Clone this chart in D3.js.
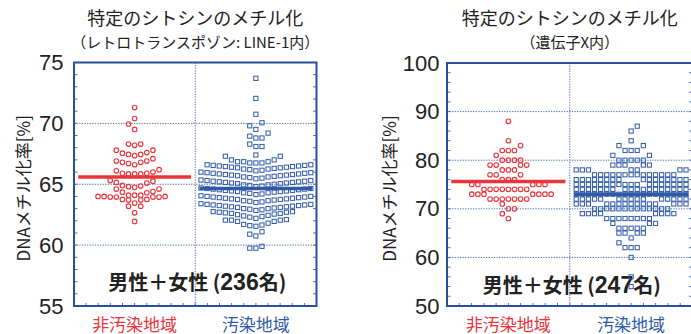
<!DOCTYPE html>
<html>
<head>
<meta charset="utf-8">
<script src="https://cdn.jsdelivr.net/npm/d3@7"></script>
<style>
  html, body { margin: 0; padding: 0; background: #fff; }
  svg { display: block; }
</style>
</head>
<body>
<svg id="chart" width="691" height="334"></svg>
<script>
// ---------------- data ----------------
const categories = ["非汚染地域", "汚染地域"];

// LINE-1 methylation rate (%), one value per subject
const line1Unexposed = [
  61.95,
  62.65, 63.2, 63.2,
  63.45, 63.7, 63.7, 63.75, 63.75, 63.95, 63.95, 63.95, 63.95, 64.0, 64.0, 64.0,
  64.1, 64.1, 64.1, 64.3, 64.35, 64.4, 64.6, 64.6,
  64.75, 64.8, 64.85, 64.9, 65.1, 65.15, 65.25, 65.3,
  65.85, 65.85, 65.85, 65.9, 65.9, 66.0, 66.1, 66.2,
  66.6, 66.7, 66.8, 66.8, 66.9, 66.9, 67.1,
  67.35, 67.45, 67.45, 67.55, 67.6, 67.8, 67.8,
  68.2, 68.3, 68.3,
  69.5, 69.95,
  70.4,
  71.3
];
const line1Exposed = [
  59.75, 59.75, 59.9,
  60.75, 60.9, 61.1,
  61.55, 61.6, 61.65, 61.7, 61.8, 61.95, 61.95, 62.05, 62.05, 62.05, 62.1,
  62.2, 62.3, 62.35, 62.4, 62.45, 62.5, 62.55, 62.6, 62.6, 62.65, 62.7, 62.7, 62.75, 62.75,
  62.85, 62.9, 62.95, 63.0, 63.0, 63.05, 63.1, 63.1, 63.15, 63.15, 63.2, 63.2, 63.25, 63.25, 63.3, 63.3, 63.35, 63.35, 63.4,
  63.5, 63.55, 63.6, 63.65, 63.65, 63.7, 63.75, 63.75, 63.8, 63.8, 63.85, 63.85, 63.9, 63.9, 63.95, 63.95, 64.0, 64.0, 64.05,
  64.15, 64.2, 64.25, 64.3, 64.3, 64.35, 64.4, 64.4, 64.45, 64.45, 64.5, 64.5, 64.55, 64.55, 64.6, 64.6, 64.65, 64.65, 64.7,
  64.8, 64.85, 64.9, 64.95, 64.95, 65.0, 65.05, 65.05, 65.1, 65.1, 65.15, 65.15, 65.2, 65.2, 65.25, 65.25, 65.3, 65.3, 65.35,
  65.45, 65.5, 65.55, 65.6, 65.6, 65.65, 65.7, 65.7, 65.75, 65.75, 65.8, 65.8, 65.85, 65.85, 65.9, 65.9, 65.95, 65.95, 66.0,
  66.1, 66.15, 66.2, 66.25, 66.25, 66.3, 66.35, 66.35, 66.4, 66.4, 66.45, 66.45, 66.5, 66.5, 66.55, 66.55, 66.6, 66.6,
  66.75, 66.75, 66.75, 66.85, 66.85, 66.85, 67.0, 67.0, 67.3, 67.3,
  67.4,
  68.1, 68.1, 68.3,
  68.8, 68.8, 68.95, 69.2,
  69.5, 69.8, 70.05,
  70.75, 72.05, 73.7
];
const line1Means = [65.6, 64.65];
const line1Ticks = [55, 60, 65, 70, 75];

// methylation rate (%) inside gene X, one value per subject
const geneXUnexposed = [
  68, 69, 70, 70, 71,
  72, 72, 72, 72, 72, 72, 72,
  73, 73, 73, 73, 73, 73, 73,
  74, 74, 74, 74, 74, 74, 74, 74,
  75, 75, 75, 75, 75,
  76, 76, 76, 77, 77, 77,
  78, 78, 78, 79, 79, 79, 79,
  80, 80, 80, 80, 81,
  82, 82, 82, 83, 84, 88
];
const geneXExposed = [
  54, 56, 60, 62, 62, 62, 63, 64, 65, 65, 65, 65,
  66, 66, 66, 66, 66, 67, 67, 67,
  68, 68, 68, 68, 68, 68, 68, 68,
  69, 69, 69, 69, 69, 69, 69, 69,
  70, 70, 70, 70, 70, 70, 70, 70, 70, 70, 70, 70, 70,
  71, 71, 71, 71, 71, 71, 71, 71, 71, 71, 71, 71, 71, 71, 71,
  72, 72, 72, 72, 72, 72, 72, 72, 72, 72, 72, 72, 72, 72, 72,
  73, 73, 73, 73, 73, 73, 73, 73, 73, 73, 73, 73, 73, 73, 73, 73, 73, 73, 73,
  74, 74, 74, 74, 74, 74, 74, 74, 74, 74, 74, 74, 74, 74, 74, 74, 74, 74,
  75, 75, 75, 75, 75, 75, 75, 75, 75, 75, 75, 75, 75, 75, 75, 75, 75, 75,
  76, 76, 76, 76, 76, 76, 76, 76, 76, 76, 76, 76, 76, 76, 76, 76,
  77, 77, 77, 77, 77, 77, 77, 77, 77, 77, 77, 77, 77, 77,
  78, 78, 78, 78, 78, 78, 78,
  79, 79, 79, 79, 79,
  80, 80, 80, 80, 80, 81, 81,
  82, 82, 82, 83, 83, 84, 86, 87
];
const geneXMeans = [75.6, 73.0];
const geneXTicks = [50, 60, 70, 80, 90, 100];

// ---------------- styling ----------------
const COLORS = {
  frame: "#2a4f9d",
  grid: "#4d70b8",
  red: "#e8343b",
  blue: "#2f5aa8",
  text: "#222222"
};
const CJK = "'Noto Sans CJK JP', 'Noto Sans CJK SC', sans-serif";
const LATIN = "'Liberation Sans', Arial, sans-serif";

const panels = [
  {
    title: "特定のシトシンのメチル化",
    subtitle: "（レトロトランスポゾン: LINE-1内）",
    series: [line1Unexposed, line1Exposed],
    means: line1Means,
    ticks: line1Ticks,
    minorStep: 1,
    total: "236",
    frame: { x0: 74, x1: 316.5, y0: 62.5, y1: 306 },
    labelPad: 10.5,
    noteY: 290,
    axisTitleX: 22
  },
  {
    title: "特定のシトシンのメチル化",
    subtitle: "（遺伝子X内）",
    series: [geneXUnexposed, geneXExposed],
    means: geneXMeans,
    ticks: geneXTicks,
    minorStep: 2,
    total: "247",
    frame: { x0: 447, x1: 692.5, y0: 63, y1: 306 },
    labelPad: 7.5,
    noteY: 293,
    axisTitleX: 388
  }
];

const COL_STEP = 6.1;     // horizontal spacing between neighbouring dots
const ROW_HEIGHT = 7.4;   // values closer than this (px) share a row
const MAX_PER_ROW = 19;   // a row never grows wider than the category band

// Column-scatter layout: sorted values are gathered into rows, each row
// starts in the centre and then alternates left/right outward.
function scatterColumns(values, y) {
  const sorted = values.slice().sort(d3.ascending);
  const placed = [];
  let goLeft = true;
  let i = 0;
  while (i < sorted.length) {
    const y0 = y(sorted[i]);
    const row = [];
    while (i < sorted.length && row.length < MAX_PER_ROW && (y0 - y(sorted[i])) < ROW_HEIGHT) {
      row.push(sorted[i]);
      i++;
    }
    let nl = 0, nr = 0;
    row.forEach((v, k) => {
      let col = 0;
      if (k > 0) {
        col = goLeft ? -(++nl) : ++nr;
        goLeft = !goLeft;
      }
      placed.push({ value: v, col });
    });
  }
  return placed;
}

const svg = d3.select("#chart");

panels.forEach(p => {
  const f = p.frame;
  const g = svg.append("g");
  const y = d3.scaleLinear()
    .domain(d3.extent(p.ticks))
    .range([f.y1, f.y0]);
  const x = d3.scaleBand()
    .domain(categories)
    .range([f.x0, f.x1]);
  const midX = (f.x0 + f.x1) / 2;

  // titles
  g.append("text")
    .attr("x", midX).attr("y", 25)
    .attr("text-anchor", "middle")
    .style("font-family", CJK).style("font-size", "18px")
    .style("fill", COLORS.text)
    .text(p.title);
  g.append("text")
    .attr("x", midX).attr("y", 48)
    .attr("text-anchor", "middle")
    .style("font-family", CJK).style("font-size", "15px")
    .style("fill", COLORS.text)
    .text(p.subtitle);

  // y-axis title
  g.append("text")
    .attr("transform", `translate(${p.axisTitleX},${(f.y0 + f.y1) / 2 + 4}) rotate(-90)`)
    .attr("text-anchor", "middle")
    .attr("dominant-baseline", "central")
    .style("font-family", CJK).style("font-size", "17px")
    .style("fill", COLORS.text)
    .text("DNAメチル化率[%]");

  // y-axis tick labels
  const axis = g.append("g")
    .attr("transform", `translate(${f.x0},0)`)
    .call(d3.axisLeft(y).tickValues(p.ticks).tickSize(0).tickPadding(p.labelPad));
  axis.select(".domain").remove();
  axis.selectAll("text")
    .style("font-family", LATIN).style("font-size", "22px")
    .style("fill", COLORS.text);

  // dotted grid lines at the labelled values, and the divider between groups
  const inner = p.ticks.filter(t => t > y.domain()[0] && t < y.domain()[1]);
  g.append("g").selectAll("line").data(inner).join("line")
    .attr("x1", f.x0).attr("x2", f.x1)
    .attr("y1", d => y(d)).attr("y2", d => y(d))
    .attr("stroke", COLORS.grid).attr("stroke-width", 1)
    .attr("stroke-dasharray", "1.3,1.3");
  g.append("line")
    .attr("x1", midX).attr("x2", midX)
    .attr("y1", f.y0).attr("y2", f.y1)
    .attr("stroke", COLORS.grid).attr("stroke-width", 1)
    .attr("stroke-dasharray", "1.3,1.3");

  // minor ticks on the left and right edges, pointing inward
  const minor = d3.range(y.domain()[0], y.domain()[1] + 1e-9, p.minorStep);
  const tickG = g.append("g").attr("stroke", COLORS.grid).attr("stroke-width", 1);
  tickG.selectAll(".ml").data(minor).join("line")
    .attr("x1", f.x0).attr("x2", f.x0 + 3.5)
    .attr("y1", d => y(d)).attr("y2", d => y(d));
  tickG.selectAll(".mr").data(minor).join("line")
    .attr("x1", f.x1 - 3.5).attr("x2", f.x1)
    .attr("y1", d => y(d)).attr("y2", d => y(d));
  // small ticks along the bottom edge
  const bottomTicks = d3.range(1, 20).map(i => f.x0 + i * (f.x1 - f.x0) / 20);
  tickG.selectAll(".mb").data(bottomTicks).join("line")
    .attr("x1", d => d).attr("x2", d => d)
    .attr("y1", f.y1).attr("y2", f.y1 - 3);

  // sample-size note
  const note = g.append("text")
    .attr("x", midX + 2).attr("y", p.noteY)
    .attr("text-anchor", "middle")
    .style("font-family", CJK).style("font-size", "20px").style("font-weight", 700)
    .style("fill", COLORS.text);
  note.append("tspan").text("男性＋女性 (");
  note.append("tspan").style("font-family", LATIN).style("font-size", "23px").text(p.total);
  note.append("tspan").text("名)");

  // dots
  const [redVals, blueVals] = p.series;
  const cxRed = x(categories[0]) + x.bandwidth() / 2;
  const cxBlue = x(categories[1]) + x.bandwidth() / 2;

  g.append("g").selectAll("circle")
    .data(scatterColumns(redVals, y)).join("circle")
    .attr("cx", d => cxRed + d.col * COL_STEP)
    .attr("cy", d => y(d.value))
    .attr("r", 2.3)
    .attr("fill", "none")
    .attr("stroke", COLORS.red).attr("stroke-width", 1.1);

  const s = 4.2;
  g.append("g").selectAll("rect")
    .data(scatterColumns(blueVals, y)).join("rect")
    .attr("x", d => cxBlue + d.col * COL_STEP - s / 2)
    .attr("y", d => y(d.value) - s / 2)
    .attr("width", s).attr("height", s)
    .attr("fill", "none")
    .attr("stroke", COLORS.blue).attr("stroke-width", 1);

  // group means
  const half = x.bandwidth() * 0.465;
  g.append("g").selectAll("line")
    .data(p.means).join("line")
    .attr("x1", (d, i) => x(categories[i]) + x.bandwidth() / 2 - half)
    .attr("x2", (d, i) => x(categories[i]) + x.bandwidth() / 2 + half)
    .attr("y1", d => y(d)).attr("y2", d => y(d))
    .attr("stroke", (d, i) => i === 0 ? COLORS.red : COLORS.blue)
    .attr("stroke-width", 3.5);

  // frame
  g.append("rect")
    .attr("x", f.x0).attr("y", f.y0)
    .attr("width", f.x1 - f.x0).attr("height", f.y1 - f.y0)
    .attr("fill", "none")
    .attr("stroke", COLORS.frame).attr("stroke-width", 2);

  // category labels
  g.append("g").selectAll("text")
    .data(categories).join("text")
    .attr("x", d => x(d) + x.bandwidth() / 2)
    .attr("y", 330.5)
    .attr("text-anchor", "middle")
    .style("font-family", CJK).style("font-size", "17px")
    .style("fill", (d, i) => i === 0 ? COLORS.red : COLORS.blue)
    .text(d => d);
});
</script>
</body>
</html>
